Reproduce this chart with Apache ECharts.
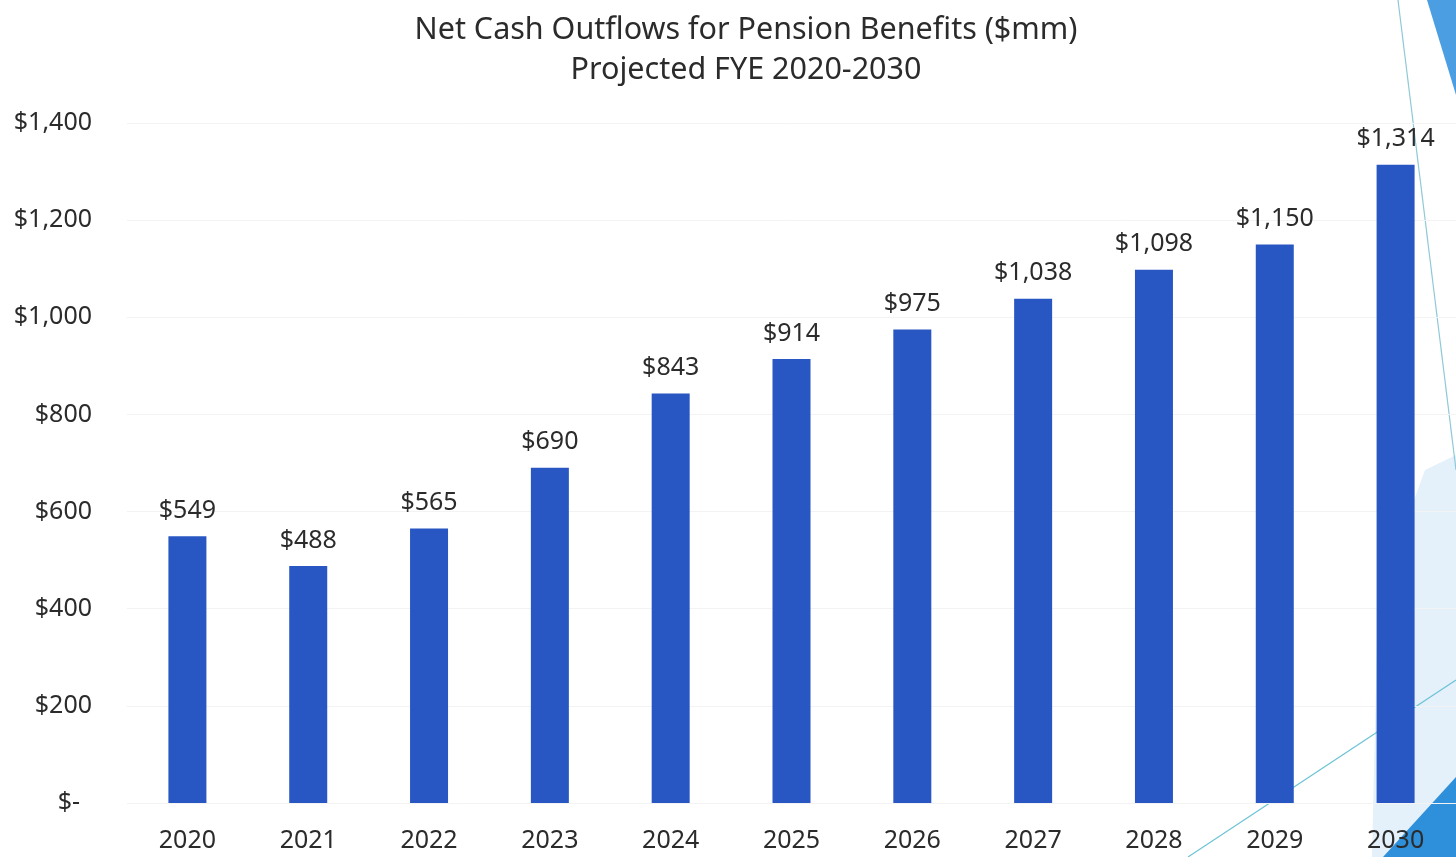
<!DOCTYPE html>
<html>
<head>
<meta charset="utf-8">
<title>Net Cash Outflows for Pension Benefits</title>
<script src="https://cdn.jsdelivr.net/npm/echarts@6/dist/echarts.min.js"></script>
<style>
  html, body { margin: 0; padding: 0; background: #ffffff; }
  #chart { width: 1456px; height: 857px; }
</style>
</head>
<body>
<div id="chart"></div>
<script>
// Projected fiscal years and net pension cash outflows ($mm)
const years = ['2020', '2021', '2022', '2023', '2024', '2025', '2026', '2027', '2028', '2029', '2030'];
const outflows = [549, 488, 565, 690, 843, 914, 975, 1038, 1098, 1150, 1314];
const yTicks = [0, 200, 400, 600, 800, 1000, 1200, 1400];

const FONT = '"Noto Sans", "Open Sans", sans-serif';
const TEXT = '#2b2b2b';

function money(v) {
  return v === 0 ? '$-' : '$' + v.toLocaleString('en-US');
}

const chart = echarts.init(document.getElementById('chart'), null, { renderer: 'canvas' });

chart.setOption({
  backgroundColor: '#ffffff',
  animation: false,
  title: {
    text: 'Net Cash Outflows for Pension Benefits ($mm)\nProjected FYE 2020-2030',
    left: 741,
    top: 5,
    textAlign: 'center',
    textStyle: {
      fontFamily: FONT,
      fontSize: 30.5,
      fontWeight: 'normal',
      color: TEXT,
      lineHeight: 40
    }
  },
  // slide background accents along the right edge
  graphic: [
    { type: 'polygon', z: -10, shape: { points: [[1425, 470], [1456, 455], [1456, 857], [1372, 857], [1378, 600]] },
      style: { fill: '#e4f0fa' } },
    { type: 'polygon', z: -9, shape: { points: [[1427, 0], [1456, 0], [1456, 95]] },
      style: { fill: '#4c9ee2' } },
    { type: 'polygon', z: -9, shape: { points: [[1383, 857], [1456, 777], [1456, 857]] },
      style: { fill: '#2e8fda' } },
    { type: 'line', z: -8, shape: { x1: 1398, y1: 0, x2: 1456, y2: 470 },
      style: { stroke: '#8fc9d8', lineWidth: 1.2 } },
    { type: 'line', z: -8, shape: { x1: 1188, y1: 857, x2: 1456, y2: 680 },
      style: { stroke: '#6cc3d6', lineWidth: 1.2 } }
  ],
  grid: {
    left: 127,
    right: -8,
    top: 123,
    bottom: 54,
    containLabel: false
  },
  xAxis: {
    type: 'category',
    data: years,
    axisLine: { show: false },
    axisTick: { show: false },
    axisLabel: {
      fontFamily: FONT,
      fontSize: 25,
      color: TEXT,
      margin: 25
    }
  },
  yAxis: {
    type: 'value',
    min: yTicks[0],
    max: yTicks[yTicks.length - 1],
    interval: yTicks[1] - yTicks[0],
    axisLine: { show: false },
    axisTick: { show: false },
    splitLine: { show: true, lineStyle: { color: '#f3f3f3', width: 1 } },
    axisLabel: {
      fontFamily: FONT,
      fontSize: 25,
      color: TEXT,
      margin: 35,
      // zero is shown accounting-style, set in from the right edge
      formatter: (v) => (v === 0 ? '{z|$-}' : money(v)),
      rich: { z: { padding: [0, 12, 0, 0], fontFamily: FONT, fontSize: 25, color: TEXT } }
    }
  },
  series: [{
    type: 'bar',
    data: outflows,
    barWidth: 38,
    itemStyle: { color: '#2857c3' },
    label: {
      show: true,
      position: 'top',
      distance: 13,
      fontFamily: FONT,
      fontSize: 25,
      color: TEXT,
      formatter: (p) => money(p.value)
    }
  }]
});
</script>
</body>
</html>
